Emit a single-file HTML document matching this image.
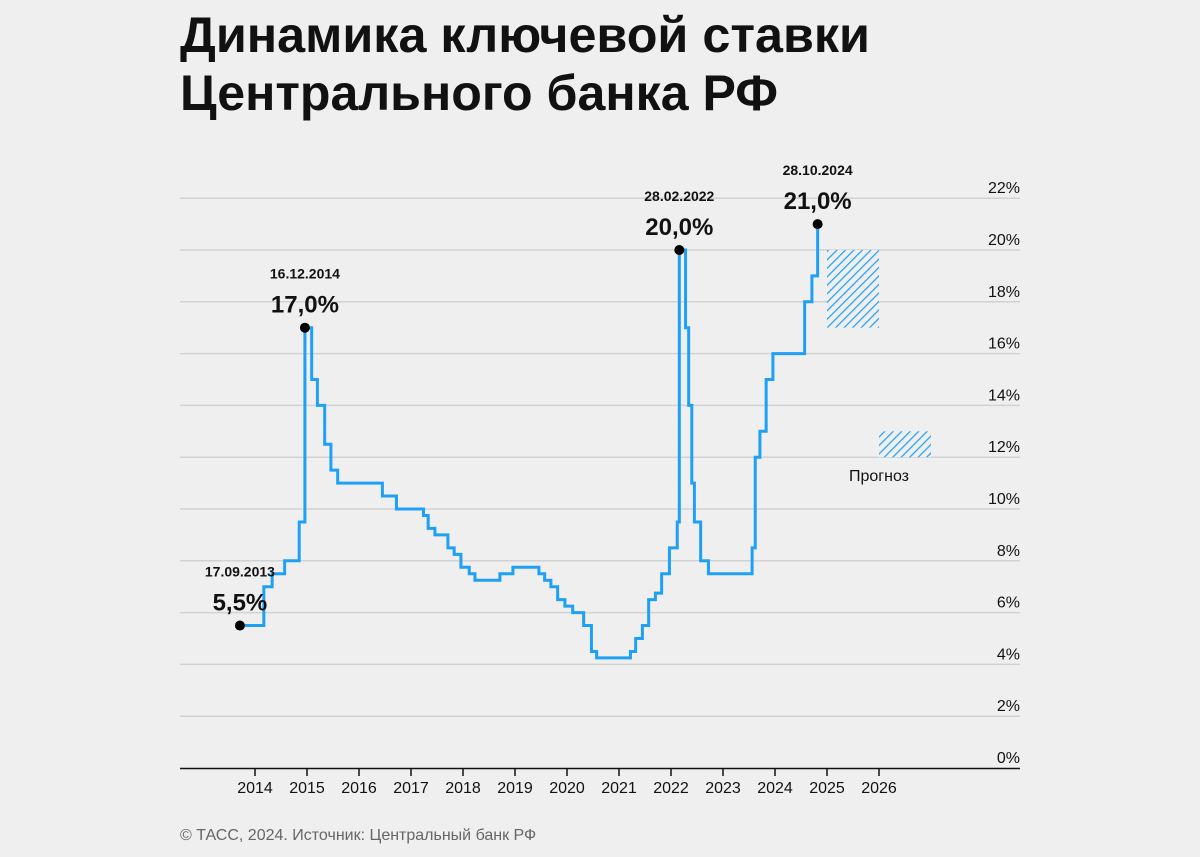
<!DOCTYPE html>
<html><head><meta charset="utf-8">
<style>
html,body{margin:0;padding:0;background:#efefef;}
svg{display:block;font-family:"Liberation Sans",sans-serif;}
</style></head>
<body>
<svg id="chart" width="1200" height="857" viewBox="0 0 1200 857">
<defs>
<pattern id="hatch" patternUnits="userSpaceOnUse" width="6" height="6" patternTransform="rotate(45)">
<rect width="6" height="6" fill="#efefef"/>
<line x1="0" y1="0" x2="0" y2="6" stroke="#1ea0f5" stroke-width="2.4"/>
</pattern>
</defs>
<rect width="1200" height="857" fill="#efefef"/>
<text x="180" y="52" font-size="50" font-weight="bold" fill="#111" textLength="690" lengthAdjust="spacingAndGlyphs">Динамика ключевой ставки</text>
<text x="180" y="110" font-size="50" font-weight="bold" fill="#111" textLength="598" lengthAdjust="spacingAndGlyphs">Центрального банка РФ</text>
<g id="grid"></g>
<g id="forecast"></g>
<g id="series"></g>
<g id="ann"></g>
<g id="xaxis"></g>
<text x="180" y="840" font-size="16" fill="#666">© ТАСС, 2024. Источник: Центральный банк РФ</text>
</svg>
<script>
const yTicks=[0,2,4,6,8,10,12,14,16,18,20,22];
const years=[2014,2015,2016,2017,2018,2019,2020,2021,2022,2023,2024,2025,2026];
const dates=[2013.71,2014.17,2014.33,2014.57,2014.85,2014.96,2015.09,2015.2,2015.34,2015.46,2015.59,2016.45,2016.72,2017.24,2017.33,2017.46,2017.71,2017.83,2017.96,2018.12,2018.23,2018.71,2018.96,2019.46,2019.57,2019.69,2019.82,2019.96,2020.11,2020.32,2020.47,2020.57,2021.22,2021.32,2021.45,2021.57,2021.7,2021.82,2021.97,2022.12,2022.16,2022.28,2022.34,2022.4,2022.45,2022.57,2022.72,2023.56,2023.62,2023.71,2023.83,2023.96,2024.57,2024.71,2024.82];
const rates=[5.5,7,7.5,8,9.5,17,15,14,12.5,11.5,11,10.5,10,9.75,9.25,9,8.5,8.25,7.75,7.5,7.25,7.5,7.75,7.5,7.25,7,6.5,6.25,6,5.5,4.5,4.25,4.5,5,5.5,6.5,6.75,7.5,8.5,9.5,20,17,14,11,9.5,8,7.5,8.5,12,13,15,16,18,19,21];
const endDate=2024.9;
const forecastYears=[2025,2026];
const forecastLow=[17,12];
const forecastHigh=[20,13];
const annDates=["17.09.2013","16.12.2014","28.02.2022","28.10.2024"];
const annIdx=[0,5,40,54];
const annLabels=["5,5%","17,0%","20,0%","21,0%"];

const NS="http://www.w3.org/2000/svg";
const X=t=>255+52*(t-2014);
const Y=v=>768-25.9*v;
function mk(tag,attrs,parent,txt){const e=document.createElementNS(NS,tag);for(const k in attrs)e.setAttribute(k,attrs[k]);if(txt!==undefined)e.textContent=txt;parent.appendChild(e);return e;}
const grid=document.getElementById('grid');
yTicks.forEach(v=>{
 if(v>0){const l=mk('line',{x1:180,x2:1020,y1:Y(v),y2:Y(v),stroke:'#d2d2d2','stroke-width':1.5},grid);
 
 }
 const t=mk('text',{x:1020,y:Y(v)-5,'text-anchor':'end','font-size':16,fill:'#111'},grid,v+'%');
 
 
});
const xa=document.getElementById('xaxis');
const ax=mk('line',{x1:180,x2:1020,y1:768.5,y2:768.5,stroke:'#111','stroke-width':1.5},xa);


years.forEach(y=>{
 const tk=mk('line',{x1:X(y),x2:X(y),y1:768,y2:776,stroke:'#111','stroke-width':1.5},xa);
 
 
 const t=mk('text',{x:X(y),y:793,'text-anchor':'middle','font-size':16,fill:'#111'},xa,String(y));
 
 
});
const fc=document.getElementById('forecast');
forecastYears.forEach((y,i)=>{
 const r=mk('rect',{x:X(y),y:Y(forecastHigh[i]),width:52,height:Y(forecastLow[i])-Y(forecastHigh[i]),fill:'url(#hatch)'},fc);
 
 
});
const fl=mk('text',{x:X(2026),y:Y(forecastLow[1])+24,'text-anchor':'middle','font-size':16,fill:'#111'},fc,'Прогноз');


let d='';
for(let i=0;i<dates.length;i++){
 const x=X(dates[i]),y=Y(rates[i]);
 d+=(i===0?'M'+x+' '+y:'V'+y)+' ';
 const nx=i<dates.length-1?X(dates[i+1]):X(endDate);
 d+='H'+nx+' ';
}
const p=mk('path',{d:d,fill:'none',stroke:'#1ea0f5','stroke-width':3},document.getElementById('series'));


const an=document.getElementById('ann');
annIdx.forEach((k,i)=>{
 const x=X(dates[k]),y=Y(rates[k]);
 const c=mk('circle',{cx:x,cy:y,r:5,fill:'#000'},an);
 
 
 const t1=mk('text',{x:x,y:y-49,'text-anchor':'middle','font-size':14,'font-weight':'bold',fill:'#111'},an,annDates[i]);
 
 
 const t2=mk('text',{x:x,y:y-15,'text-anchor':'middle','font-size':24,'font-weight':'bold',fill:'#111'},an,annLabels[i]);
 
 
});
</script>
</body></html>
